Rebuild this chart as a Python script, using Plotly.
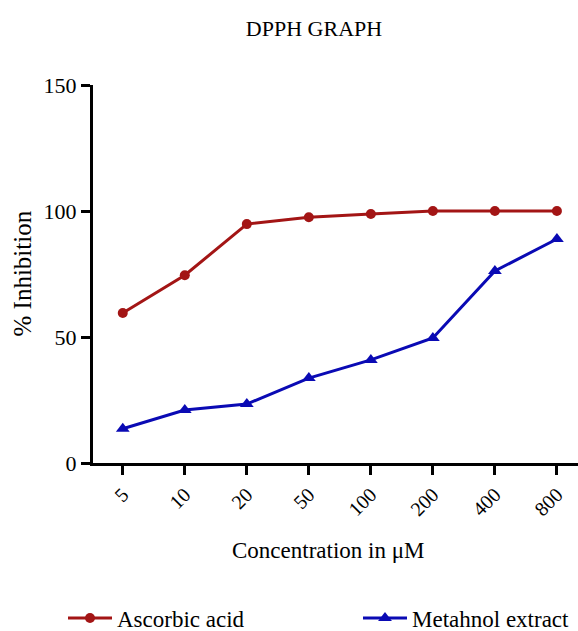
import plotly.graph_objects as go

concentrations = ["5", "10", "20", "50", "100", "200", "400", "800"]
ascorbic_acid = [59.5, 74.5, 94.8, 97.5, 98.8, 100.0, 100.0, 100.0]
methanol_extract = [13.6, 21.0, 23.4, 33.7, 40.9, 49.6, 76.2, 88.9]
y_ticks = [0, 50, 100, 150]

W, H = 578, 631
FONT = "Liberation Serif, Times New Roman, serif"
RED = "#A31515"
BLUE = "#0A0AB4"
L, T, B = 93, 85, 168
PW, PH = W - L, H - T - B

fig = go.Figure()
fig.add_trace(go.Scatter(
    x=concentrations, y=ascorbic_acid, name="Ascorbic acid",
    mode="lines+markers", line=dict(color=RED, width=3),
    marker=dict(symbol="circle", size=10, color=RED), legend="legend"))
fig.add_trace(go.Scatter(
    x=concentrations, y=methanol_extract, name="Metahnol extract",
    mode="lines+markers", line=dict(color=BLUE, width=3),
    marker=dict(symbol="triangle-up", size=12, color=BLUE), legend="legend2"))

fig.update_layout(
    width=W, height=H,
    paper_bgcolor="white", plot_bgcolor="white",
    margin=dict(l=L, r=0, t=T, b=B, autoexpand=False),
    font=dict(family=FONT, color="black"),
    title=dict(text="DPPH GRAPH", x=314 / W, xref="container", xanchor="center",
               y=1 - 28 / H, yref="container", yanchor="middle",
               font=dict(family=FONT, size=22, color="black")),
    xaxis=dict(
        type="category", range=[-0.48, 7.34], automargin=False,
        showline=True, linecolor="black", linewidth=3,
        ticks="outside", ticklen=9, tickwidth=3, tickcolor="black",
        tickangle=-45, tickfont=dict(family=FONT, size=20),
        showgrid=False, zeroline=False,
    ),
    yaxis=dict(
        range=[0, 150], tickvals=y_ticks, automargin=False,
        showline=True, linecolor="black", linewidth=3,
        ticks="outside", ticklen=9, tickwidth=3, tickcolor="black",
        tickfont=dict(family=FONT, size=22),
        showgrid=False, zeroline=False,
    ),
    legend=dict(
        orientation="h", x=63 / W, xref="container", xanchor="left",
        y=1 - 618 / H, yref="container", yanchor="middle",
        font=dict(family=FONT, size=23), itemwidth=44,
        bgcolor="rgba(0,0,0,0)",
    ),
    legend2=dict(
        orientation="h", x=358 / W, xref="container", xanchor="left",
        y=1 - 618 / H, yref="container", yanchor="middle",
        font=dict(family=FONT, size=23), itemwidth=44,
        bgcolor="rgba(0,0,0,0)",
    ),
    showlegend=True,
    annotations=[
        dict(text="Concentration in μM", xref="paper", yref="paper",
             x=(327.5 - L) / PW, y=(H - B - 550) / PH, xanchor="center", yanchor="middle",
             showarrow=False, font=dict(family=FONT, size=23, color="black")),
        dict(text="% Inhibition", xref="paper", yref="paper", textangle=-90,
             x=(22 - L) / PW, y=(H - B - 273.5) / PH, xanchor="center", yanchor="middle",
             showarrow=False, font=dict(family=FONT, size=25, color="black")),
    ],
)

fig.write_html("out.html", config={"displayModeBar": False},
               post_script="document.body.style.margin='0px';document.body.style.padding='0px';")
